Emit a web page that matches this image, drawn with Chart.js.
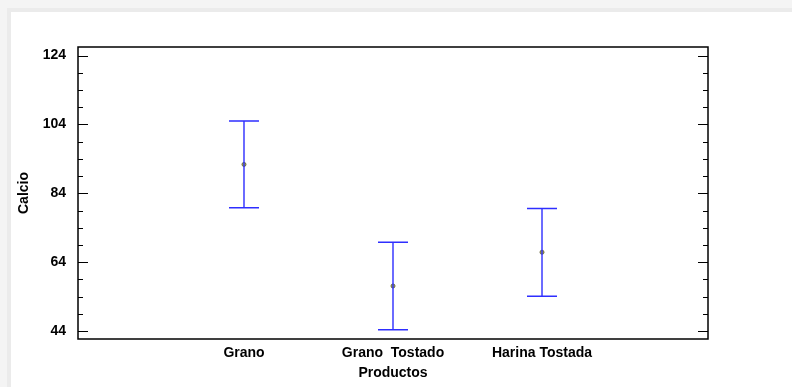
<!DOCTYPE html>
<html>
<head>
<meta charset="utf-8">
<script src="https://cdn.jsdelivr.net/npm/chart.js@4/dist/chart.umd.min.js"></script>
<style>
  html, body { margin: 0; padding: 0; }
  body { width: 792px; height: 387px; background: #f4f4f4; position: relative; overflow: hidden; }
  #panel { position: absolute; left: 7px; top: 8px; right: 0; bottom: 0; background: #fff;
           border-left: 4px solid #ebebeb; border-top: 4px solid #ebebeb; }
  #wrap { position: absolute; left: 0; top: 0; width: 792px; height: 387px; }
</style>
</head>
<body>
<div id="panel"></div>
<div id="wrap"><canvas id="c" width="792" height="387"></canvas></div>
<script>
// Mean calcium per product with its interval limits
const categories = ['Grano', 'Grano  Tostado', 'Harina Tostada'];
const means = [92.4, 57.1, 66.9];
const lower = [79.8, 44.4, 54.1];
const upper = [105.0, 69.8, 79.6];
const yTicks = [44, 64, 84, 104, 124];
const yMinorStep = 5;

const FONT = { family: '"Liberation Sans", Arial, sans-serif', size: 14, weight: 'bold' };

// Interval bars with caps, plus the framed box with inward tick marks
const intervalPlugin = {
  id: 'intervals',
  afterDatasetsDraw(chart) {
    const ctx = chart.ctx;
    const xs = chart.scales.x, ys = chart.scales.y;
    const ds = chart.data.datasets[0];
    ctx.save();
    ctx.strokeStyle = '#2e2eff';
    ctx.lineWidth = 1.4;
    ds.data.forEach((p, i) => {
      const x = xs.getPixelForValue(p.x);
      const yl = ys.getPixelForValue(ds.lower[i]);
      const yu = ys.getPixelForValue(ds.upper[i]);
      ctx.beginPath();
      ctx.moveTo(x, yu); ctx.lineTo(x, yl);
      ctx.moveTo(x - 15, yu); ctx.lineTo(x + 15, yu);
      ctx.moveTo(x - 15, yl); ctx.lineTo(x + 15, yl);
      ctx.stroke();
    });
    ctx.restore();
  },
  afterDraw(chart) {
    const ctx = chart.ctx;
    const a = chart.chartArea;
    const ys = chart.scales.y;
    ctx.save();
    ctx.strokeStyle = '#000';
    ctx.lineWidth = 1.5;
    ctx.strokeRect(a.left, a.top, a.right - a.left, a.bottom - a.top);
    ctx.lineWidth = 1.2;
    ctx.beginPath();
    const base = yTicks[0];
    const kMin = Math.ceil((ys.min - base) / yMinorStep);
    const kMax = Math.floor((ys.max - base) / yMinorStep);
    for (let k = kMin; k <= kMax; k++) {
      const v = base + k * yMinorStep;
      const y = Math.round(ys.getPixelForValue(v)) + 0.5;
      const len = yTicks.includes(v) ? 10 : 5;
      ctx.moveTo(a.left, y); ctx.lineTo(a.left + len, y);
      ctx.moveTo(a.right, y); ctx.lineTo(a.right - len, y);
    }
    ctx.stroke();
    ctx.restore();
  }
};

new Chart(document.getElementById('c'), {
  type: 'scatter',
  data: {
    datasets: [{
      data: means.map((m, i) => ({ x: i + 1, y: m })),
      lower: lower,
      upper: upper,
      pointRadius: 2,
      pointBackgroundColor: '#aaaa44',
      pointBorderColor: '#6a6a40',
      pointBorderWidth: 1,
      order: 0
    }]
  },
  options: {
    responsive: false,
    animation: false,
    events: [],
    layout: { padding: { top: 47, right: 84, left: 0, bottom: 0 } },
    plugins: { legend: { display: false }, tooltip: { enabled: false } },
    scales: {
      x: {
        type: 'linear',
        min: -0.114,
        max: 4.114,
        afterBuildTicks(scale) { scale.ticks = [1, 2, 3].map(v => ({ value: v })); },
        afterFit(scale) { scale.height = 48; },
        grid: { display: false, drawTicks: false },
        border: { display: false },
        ticks: {
          padding: 6,
          color: '#000',
          font: FONT,
          maxRotation: 0,
          autoSkip: false,
          callback: (v) => categories[v - 1] ?? ''
        },
        title: { display: true, text: 'Productos', color: '#000', font: FONT, padding: { top: 0, bottom: 5.5 } }
      },
      y: {
        type: 'linear',
        min: 41.7,
        max: 126.5,
        afterBuildTicks(scale) { scale.ticks = yTicks.map(v => ({ value: v })); },
        afterFit(scale) { scale.width = 78; },
        grid: { display: false, drawTicks: false },
        border: { display: false },
        ticks: { padding: 12, color: '#000', font: FONT, autoSkip: false },
        title: { display: true, text: 'Calcio', color: '#000', font: FONT, padding: { top: 15.5, bottom: 0 } }
      }
    }
  },
  plugins: [intervalPlugin]
});
</script>
</body>
</html>
